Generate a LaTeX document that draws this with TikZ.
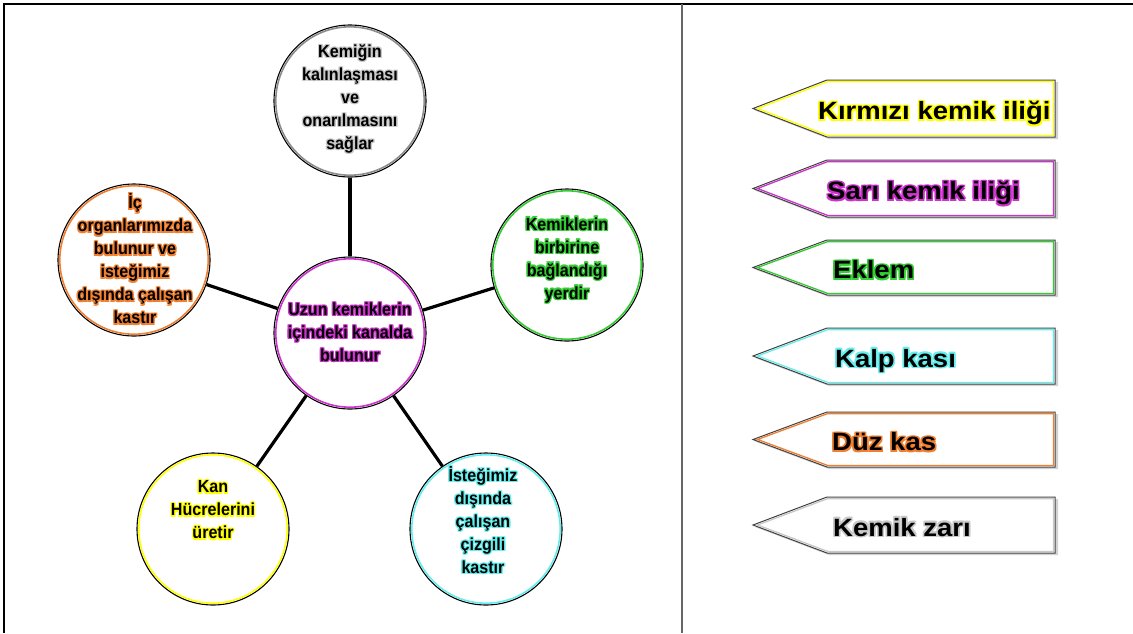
\documentclass[tikz,border=0pt]{standalone}
\usepackage{fontspec}
\setmainfont{Liberation Sans}
\newfontfamily\circfont[FakeStretch=0.92]{Liberation Sans}
\newfontfamily\arrfont[FakeStretch=1.1]{Liberation Sans}
\usetikzlibrary{calc}
\definecolor{hyel}{HTML}{FFFF00}
\definecolor{hmag}{HTML}{CC33CC}
\definecolor{hgrn}{HTML}{33CC33}
\definecolor{hcya}{HTML}{66EEEE}
\definecolor{hora}{HTML}{F08030}
\definecolor{hgry}{HTML}{C8C8C8}
\newcommand\hlo[2]{\rlap{\kern#1\raisebox{#2}{\copy0}}}
\newcommand\hl[3]{\begingroup\setbox0\hbox{#3}%
{\color{#1}\hlo{-#2}{0pt}\hlo{#2}{0pt}\hlo{0pt}{#2}\hlo{0pt}{-#2}\hlo{-#2}{#2}\hlo{#2}{#2}\hlo{-#2}{-#2}\hlo{#2}{-#2}}%
\box0\endgroup}
\newcommand\hx[1]{\hl{\curhl}{\curoff}{#1}}
\tikzset{
  circ/.style={circle, draw=black, line width=1.1pt, minimum size=152pt, inner sep=0pt},
  ring/.style={draw=#1, line width=1.6pt},
  ctext/.style={align=center, inner sep=0pt, font=\circfont\bfseries\fontsize{17.5}{23}\selectfont,
    execute at begin node={\def\curhl{#1}\def\curoff{1.1pt}}},
  atext/.style={anchor=base west, inner sep=0pt, font=\arrfont\bfseries\fontsize{25}{30}\selectfont,
    execute at begin node={\def\curhl{#1}\def\curoff{1.5pt}}},
  conn/.style={draw=black, line width=3.2pt},
}
\newcommand\arrowbox[3]{%
  \pgfmathsetmacro\amid{(#2+#3)/2}%
  \fill[gray!35] (755,\amid+2) -- (829,#2+2) -- (1058,#2+2) -- (1058,#3+2) -- (829,#3+2) -- cycle;
  \draw[fill=white, draw=black!75, line width=1pt] (753,\amid) -- (827,#2) -- (1055,#2) -- (1055,#3) -- (827,#3) -- cycle;
  \draw[draw=#1, line width=1.3pt] (757.5,\amid) -- (827.6,#2+1.6) -- (1053.4,#2+1.6) -- (1053.4,#3-1.6) -- (827.6,#3-1.6) -- cycle;
}
\begin{document}
\begin{tikzpicture}[x=1pt,y=-1pt]
\useasboundingbox (0,0) rectangle (1133,633);
\fill[white] (0,0) rectangle (1133,633);
% frame
\draw[black, line width=2pt] (4,633) -- (4,4) -- (1133,4);
\draw[black!60, line width=2.5pt] (682,4) -- (682,633);

% circles
\node[circ] (t) at (350,101) {};
\node[circ] (o) at (134,260) {};
\node[circ] (g) at (567,265) {};
\node[circ] (c) at (350,333) {};
\node[circ] (y) at (213,529) {};
\node[circ] (cy) at (486,529) {};
\draw[ring=black!45] (t.center) circle[radius=74.2pt];
\draw[ring=hora] (o.center) circle[radius=74.2pt];
\draw[ring=hgrn] (g.center) circle[radius=74.2pt];
\draw[ring=hmag] (c.center) circle[radius=74.2pt];
\draw[ring=hyel] (y.center) circle[radius=74.2pt];
\draw[ring=hcya] (cy.center) circle[radius=74.2pt];

% connectors
\draw[conn] (c) -- (t);
\draw[conn] (c) -- (o);
\draw[conn] (c) -- (g);
\draw[conn] (c) -- (y);
\draw[conn] (c) -- (cy);

% circle texts
\node[ctext=hgry] (tt) at ($(t.center)+(0,-2)$) {\hx{Kemiğin}\\\hx{kalınlaşması}\\\hx{ve}\\\hx{onarılmasını}\\\hx{sağlar}};
\node[ctext=hora] (ot) at ($(o.center)+(1,-1)$) {\hx{İç}\\\hx{organlarımızda}\\\hx{bulunur ve}\\\hx{isteğimiz}\\\hx{dışında çalışan}\\\hx{kastır}};
\node[ctext=hgrn] (gt) at ($(g.center)+(0,-5)$) {\hx{Kemiklerin}\\\hx{birbirine}\\\hx{bağlandığı}\\\hx{yerdir}};
\node[ctext=hmag] (ct) at ($(c.center)+(0,-1)$) {\hx{Uzun kemiklerin}\\\hx{içindeki kanalda}\\\hx{bulunur}};
\node[ctext=hyel] (yt) at ($(y.center)+(0,-19)$) {\hx{Kan}\\\hx{Hücrelerini}\\\hx{üretir}};
\node[ctext=hcya] (cyt) at ($(cy.center)+(-3,-9)$) {\hx{İsteğimiz}\\\hx{dışında}\\\hx{çalışan}\\\hx{çizgili}\\\hx{kastır}};

% arrow boxes
\arrowbox{hyel}{80}{137}
\arrowbox{hmag}{160}{217}
\arrowbox{hgrn}{240}{295}
\arrowbox{hcya}{328}{384}
\arrowbox{hora}{412}{467}
\arrowbox{hgry}{497}{553}
\node[atext=hyel] (a1) at (818,119.5) {\hx{Kırmızı kemik iliği}};
\node[atext=hmag] (a2) at (827,199.5) {\hx{Sarı kemik iliği}};
\node[atext=hgrn] (a3) at (833,278.5) {\hx{Eklem}};
\node[atext=hcya] (a4) at (835,367) {\hx{Kalp kası}};
\node[atext=hora] (a5) at (832,450.5) {\hx{Düz kas}};
\node[atext=hgry] (a6) at (833,536) {\hx{Kemik zarı}};
\end{tikzpicture}
\end{document}
